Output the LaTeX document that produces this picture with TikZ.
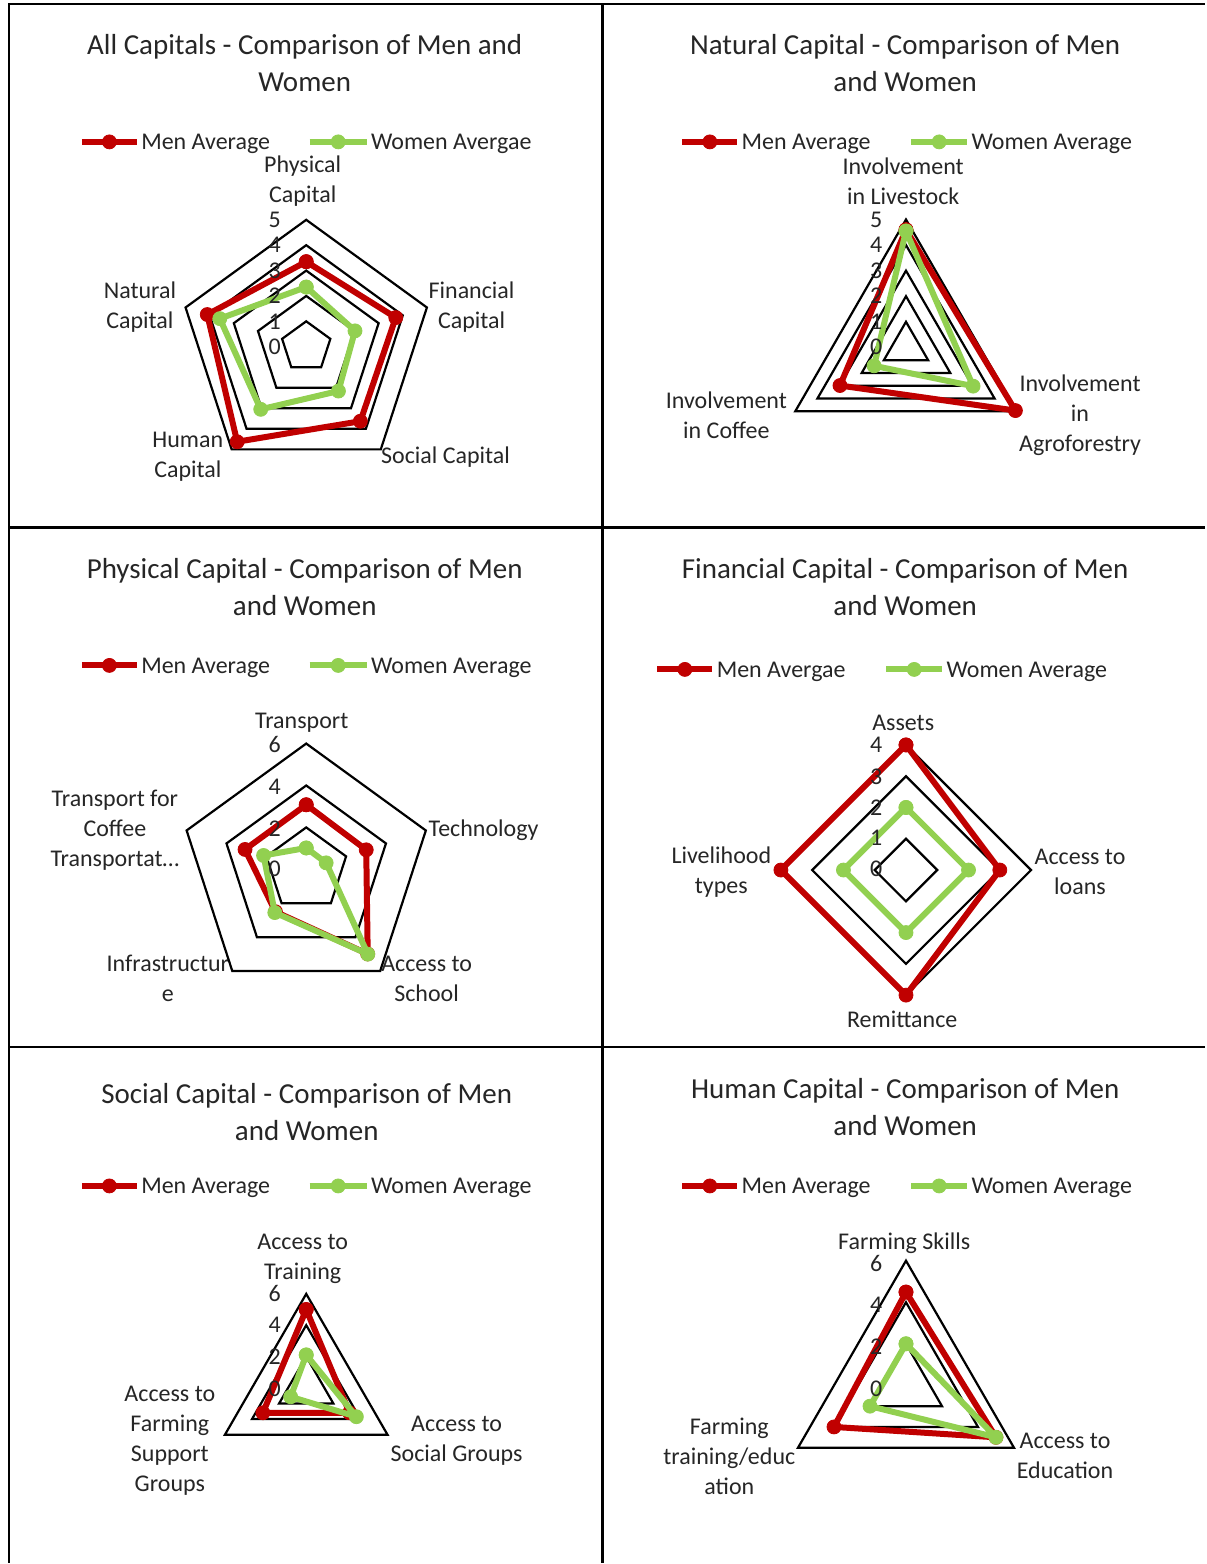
\documentclass[tikz,border=0pt]{standalone}
\usepackage{fontspec}
\setmainfont{Carlito}
\usetikzlibrary{positioning}
\definecolor{menred}{HTML}{C00000}
\definecolor{womengreen}{HTML}{92D050}

\begin{document}
\begin{tikzpicture}[x=0.5pt,y=-0.5pt,
	frame/.style={line width=1.4pt,black},
	ring/.style={line width=1.1pt,black,line join=miter},
	title/.style={align=center,inner sep=0pt,text=black!85,font=\fontsize{14.5}{18.5}\selectfont},
	tick/.style={align=center,inner sep=0pt,text=black!85,font=\fontsize{12}{15}\selectfont},
	lab/.style={tick,yshift=-1.2pt},
	men/.style={line width=3pt,menred,line join=round,mark=*,mark size=3.5pt,mark options={line width=0.4pt}},
	women/.style={line width=3pt,womengreen,line join=round,mark=*,mark size=3.5pt,mark options={line width=0.4pt}}]
	\fill[white] (0,0) rectangle (1206,1564);
	\draw[frame] (9,1564) -- (9,4) -- (1206,4);
	\draw[frame] (603,4) -- (603,1564);
	\draw[frame] (9,528) -- (1206,528);
	\draw[frame] (9,1048) -- (1206,1048);

	% all capitals
	\node[title] (t1) at (305,63) {All Capitals - Comparison of Men and\\Women};
	\coordinate (k1a) at (137,142);
	\draw[men] (82,142) -- (k1a);
	\draw[men] plot coordinates {(109.5,142)};
	\node[lab,right=2pt of k1a] (k1m) {Men Average};
	\coordinate (k1b) at (367,142);
	\draw[women] (310,142) -- (k1b);
	\draw[women] plot coordinates {(338.5,142)};
	\node[lab,right=2pt of k1b] (k1w) {Women Avergae};
	\node[tick] (a1p) at (303,181) {Physical\\Capital};
	\node[lab] (a1f) at (472,305) {Financial\\Capital};
	\node[lab] (a1s) at (446,455) {Social Capital};
	\node[lab] (a1h) at (188,455) {Human\\Capital};
	\node[lab] (a1n) at (140,305) {Natural\\Capital};
	\begin{scope}[shift={(306.5,347)},x=12.7pt,y=12.7pt]
		\foreach \r in {1,...,5}
			\draw[ring] (90:\r) -- (18:\r) -- (-54:\r) -- (-126:\r) -- (162:\r) -- cycle;
		\draw[men] plot coordinates {(90:3.35) (18:3.71) (-54:3.63) (-126:4.63) (162:4.1) (90:3.35)};
		\draw[women] plot coordinates {(90:2.35) (18:2.02) (-54:2.16) (-126:3.05) (162:3.58) (90:2.35)};
	\end{scope}
	\foreach \v/\y in {5/220,4/245,3/271,2/296,1/322,0/347}
		\node[tick] (v1-\v) at (275,\y) {\v};

	% natural capital
	\node[title] (t2) at (906,63) {Natural Capital - Comparison of Men\\and Women};
	\coordinate (k2a) at (738,142);
	\draw[men] (683,142) -- (k2a);
	\draw[men] plot coordinates {(710.5,142)};
	\node[lab,right=2pt of k2a] (k2m) {Men Average};
	\coordinate (k2b) at (968,142);
	\draw[women] (912,142) -- (k2b);
	\draw[women] plot coordinates {(940,142)};
	\node[lab,right=2pt of k2b] (k2w) {Women Average};
	\node[tick] (a2l) at (904,181) {Involvement\\in Livestock};
	\node[lab] (a2a) at (1081,413) {Involvement\\in\\Agroforestry};
	\node[lab] (a2c) at (727,413) {Involvement\\in Coffee};
	\begin{scope}[shift={(906.8,347.7)},x=12.8pt,y=12.8pt]
		\foreach \r in {1,...,5}
			\draw[ring] (90:\r) -- (-30:\r) -- (210:\r) -- cycle;
		\draw[men] plot coordinates {(90:4.6) (-30:4.94) (210:2.98) (90:4.6)};
		\draw[women] plot coordinates {(90:4.55) (-30:3.03) (210:1.44) (90:4.55)};
	\end{scope}
	\foreach \v/\y in {5/220,4/245,3/271,2/296,1/322,0/347}
		\node[tick] (v2-\v) at (877,\y) {\v};

	% physical capital
	\node[title] (t3) at (305,588) {Physical Capital - Comparison of Men\\and Women};
	\coordinate (k3a) at (137,666);
	\draw[men] (82,666) -- (k3a);
	\draw[men] plot coordinates {(109.5,666)};
	\node[lab,right=2pt of k3a] (k3m) {Men Average};
	\coordinate (k3b) at (367,666);
	\draw[women] (310,666) -- (k3b);
	\draw[women] plot coordinates {(338.5,666)};
	\node[lab,right=2pt of k3b] (k3w) {Women Average};
	\node[lab] (a3t) at (302,721) {Transport};
	\node[lab] (a3e) at (484,829) {Technology};
	\node[lab] (a3s) at (427,977) {Access to\\School};
	\node[lab] (a3i) at (168,977) {Infrastructur\\e};
	\node[lab] (a3c) at (115,829) {Transport for\\Coffee\\Transportat…};
	\begin{scope}[shift={(306.5,870.1)},x=10.49pt,y=10.49pt]
		\foreach \r in {2,4,6}
			\draw[ring] (90:\r) -- (18:\r) -- (-54:\r) -- (-126:\r) -- (162:\r) -- cycle;
		\draw[men] plot coordinates {(90:3.08) (18:3.01) (-54:4.99) (-126:2.5) (162:3.07) (90:3.08)};
		\draw[women] plot coordinates {(90:1.02) (18:1.0) (-54:5.0) (-126:2.55) (162:2.14) (90:1.02)};
	\end{scope}
	\foreach \v/\y in {6/745,4/787,2/829,0/870}
		\node[tick] (v3-\v) at (275,\y) {\v};

	% financial capital
	\node[title] (t4) at (906,588) {Financial Capital - Comparison of Men\\and Women};
	\coordinate (k4a) at (713,670);
	\draw[men] (658,670) -- (k4a);
	\draw[men] plot coordinates {(685.5,670)};
	\node[lab,right=2pt of k4a] (k4m) {Men Avergae};
	\coordinate (k4b) at (943,670);
	\draw[women] (887,670) -- (k4b);
	\draw[women] plot coordinates {(915,670)};
	\node[lab,right=2pt of k4b] (k4w) {Women Average};
	\node[lab] (a4a) at (904,721) {Assets};
	\node[lab] (a4l) at (1081,870) {Access to\\loans};
	\node[lab] (a4r) at (903,1018) {Remittance};
	\node[lab] (a4t) at (722,870) {Livelihood\\types};
	\begin{scope}[shift={(906.8,870.8)},x=15.65pt,y=15.65pt]
		\foreach \r in {1,...,4}
			\draw[ring] (90:\r) -- (0:\r) -- (-90:\r) -- (180:\r) -- cycle;
		\draw[men] plot coordinates {(90:4) (0:3) (-90:4) (180:4) (90:4)};
		\draw[women] plot coordinates {(90:2) (0:2) (-90:2) (180:2) (90:2)};
	\end{scope}
	\foreach \v/\y in {4/745,3/777,2/808,1/839,0/870}
		\node[tick] (v4-\v) at (877,\y) {\v};

	% social capital
	\node[title] (t5) at (307,1113) {Social Capital - Comparison of Men\\and Women};
	\coordinate (k5a) at (137,1187);
	\draw[men] (82,1187) -- (k5a);
	\draw[men] plot coordinates {(109.5,1187)};
	\node[lab,right=2pt of k5a] (k5m) {Men Average};
	\coordinate (k5b) at (367,1187);
	\draw[women] (310,1187) -- (k5b);
	\draw[women] plot coordinates {(338.5,1187)};
	\node[lab,right=2pt of k5b] (k5w) {Women Average};
	\node[lab] (a5t) at (303,1258) {Access to\\Training};
	\node[lab] (a5s) at (457,1440) {Access to\\Social Groups};
	\node[lab] (a5f) at (170,1440) {Access to\\Farming\\Support\\Groups};
	\begin{scope}[shift={(306.5,1389)},x=7.83pt,y=7.83pt]
		\foreach \r in {2,4,6}
			\draw[ring] (90:\r) -- (-30:\r) -- (210:\r) -- cycle;
		\draw[men] plot coordinates {(90:5) (-30:3.2) (210:3.2) (90:5)};
		\draw[women] plot coordinates {(90:2.1) (-30:3.7) (210:1.15) (90:2.1)};
	\end{scope}
	\foreach \v/\y in {6/1295,4/1326,2/1358,0/1390}
		\node[tick] (v5-\v) at (275,\y) {\v};

	% human capital
	\node[title] (t6) at (906,1108) {Human Capital - Comparison of Men\\and Women};
	\coordinate (k6a) at (738,1187);
	\draw[men] (683,1187) -- (k6a);
	\draw[men] plot coordinates {(710.5,1187)};
	\node[lab,right=2pt of k6a] (k6m) {Men Average};
	\coordinate (k6b) at (968,1187);
	\draw[women] (912,1187) -- (k6b);
	\draw[women] plot coordinates {(940,1187)};
	\node[lab,right=2pt of k6b] (k6w) {Women Average};
	\node[lab] (a6s) at (905,1242) {Farming Skills};
	\node[lab] (a6e) at (1066,1455) {Access to\\Education};
	\node[lab] (a6t) at (730,1455) {Farming\\training/educ\\ation};
	\begin{scope}[shift={(906.8,1386.6)},x=10.4pt,y=10.4pt]
		\foreach \r in {2,4,6}
			\draw[ring] (90:\r) -- (-30:\r) -- (210:\r) -- cycle;
		\draw[men] plot coordinates {(90:4.49) (-30:5) (210:4) (90:4.49)};
		\draw[women] plot coordinates {(90:2) (-30:5) (210:2) (90:2)};
	\end{scope}
	\foreach \v/\y in {6/1265,4/1306,2/1348,0/1390}
		\node[tick] (v6-\v) at (877,\y) {\v};
\end{tikzpicture}
\end{document}
